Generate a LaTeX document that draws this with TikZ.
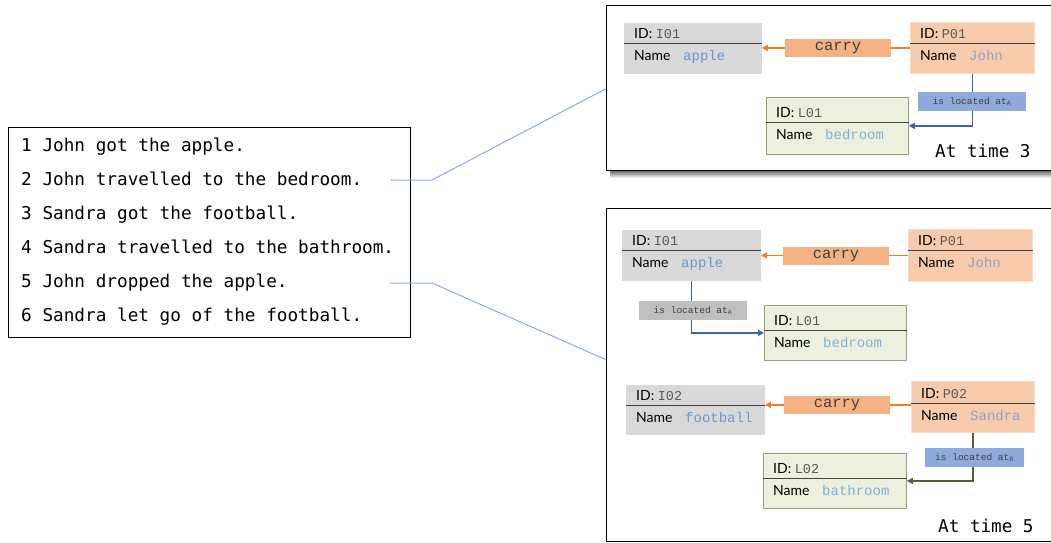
\documentclass[tikz,border=0pt]{standalone}
\usepackage{fontspec}
\setmainfont{Lato}
\setmonofont{Liberation Mono}
\newfontfamily\storyfont{DejaVu Sans Mono}
\usetikzlibrary{arrows.meta,calc}

\definecolor{itemgray}{HTML}{D9D9D9}
\definecolor{personfill}{HTML}{F8CBAD}
\definecolor{personedge}{HTML}{FBDCC8}
\definecolor{placefill}{HTML}{EBF1DE}
\definecolor{placeedge}{HTML}{9E9E7C}
\definecolor{divgray}{HTML}{404040}
\definecolor{carryfill}{HTML}{F4B183}
\definecolor{carryline}{HTML}{ED7D31}
\definecolor{locfill}{HTML}{8FAADC}
\definecolor{locgray}{HTML}{BFBFBF}
\definecolor{locline}{HTML}{3E64AD}
\definecolor{locdark}{HTML}{5A5A48}
\definecolor{linkblue}{HTML}{8FAADC}
\definecolor{idgray}{HTML}{595959}
\definecolor{valblue}{HTML}{6A98CF}
\definecolor{valgrayblue}{HTML}{8AA2C6}
\definecolor{valsky}{HTML}{7DB0D8}
\definecolor{lbltext}{HTML}{404040}

\tikzset{
  entitybox/.style={rectangle, inner sep=0pt, line width=0.8pt},
  itembox/.style={fill=itemgray, draw=itemgray},
  personbox/.style={fill=personfill, draw=personedge},
  placebox/.style={fill=placefill, draw=placeedge},
  divider/.style={draw=divgray, line width=0.9pt},
  sanslbl/.style={inner sep=0pt, anchor=base west, text=black, font=\fontsize{14}{16}\selectfont},
  vallbl/.style={inner sep=0pt, anchor=base west, font=\fontsize{14}{16}\selectfont\ttfamily},
  carrylbl/.style={rectangle, fill=carryfill, inner sep=0pt, minimum width=106pt, minimum height=18pt, text=lbltext, font=\fontsize{15.5}{17}\selectfont\ttfamily},
  loclbl/.style={rectangle, inner sep=0pt, minimum height=19pt, text=lbltext, font=\fontsize{9.5}{11}\selectfont\ttfamily},
  carryarrow/.style={draw=carryline, line width=1.3pt, -{Triangle[length=6pt,width=6pt]}},
  locarrow/.style={draw=locline, line width=1.3pt, -{Triangle[length=6pt,width=6pt]}},
  locdarkarrow/.style={draw=locdark, line width=1.3pt, -{Triangle[length=6pt,width=6pt]}},
  panel/.style={rectangle, draw=black, line width=1.4pt, fill=white, inner sep=0pt, anchor=north west},
  storyline/.style={inner sep=0pt, anchor=base west, font=\storyfont\fontsize{17.7}{20}\selectfont},
  timelbl/.style={inner sep=0pt, anchor=base west, font=\storyfont\fontsize{17.6}{20}\selectfont},
  link/.style={draw=linkblue, line width=1pt},
}

% #1 name, #2 (x,y), #3 width, #4 height, #5 divider offset, #6 box style, #7 id, #8 value, #9 value colour
\newcommand\erbox[9]{%
  \node[entitybox,#6,minimum width=#3pt,minimum height=#4pt,anchor=north west] (#1) at #2 {};
  \draw[divider] ([yshift=-#5pt]#1.north west) -- ([yshift=-#5pt]#1.north east);
  \node[sanslbl] (#1-id) at ([xshift=10pt,yshift=-#5pt+5pt]#1.north west) {ID: {\ttfamily\fontsize{13.5}{16}\selectfont\color{idgray}#7}};
  \node[sanslbl] (#1-nm) at ([xshift=10pt,yshift=-#5pt-17.5pt]#1.north west) {Name};
  \node[vallbl,text=#9] (#1-val) at ([xshift=59pt,yshift=-#5pt-17.5pt]#1.north west) {#8};
}

\begin{document}
\begin{tikzpicture}[x=1pt,y=-1pt]
\useasboundingbox (0,0) rectangle (1051,542);
\fill[white] (0,0) rectangle (1051,542);

% story box
\node[rectangle, draw=black, line width=1.2pt, inner sep=0pt, minimum width=402pt, minimum height=210pt, anchor=north west] (story) at (8,127) {};
\node[storyline] (l1) at (21,151) {1 John got the apple.};
\node[storyline] (l2) at (21,185) {2 John travelled to the bedroom.};
\node[storyline] (l3) at (21,219) {3 Sandra got the football.};
\node[storyline] (l4) at (21,253) {4 Sandra travelled to the bathroom.};
\node[storyline] (l5) at (21,287) {5 John dropped the apple.};
\node[storyline] (l6) at (21,321) {6 Sandra let go of the football.};

% panels
\shade[top color=black!65, bottom color=white] (610,170) rectangle (1051,178);
\node[panel, minimum width=470pt, minimum height=165pt] (panelA) at (606,5) {};
\node[panel, minimum width=470pt, minimum height=333pt] (panelB) at (606,208) {};

% links from story to panels
\coordinate (s2) at (390,180);
\coordinate (k2) at (432,180);
\coordinate (s5) at (390,283);
\coordinate (k5) at (432,283);
\draw[link] (s2) -- (k2) -- ([yshift=-0.5pt]panelA.west);
\draw[link] (s5) -- (k5) -- ([yshift=15.5pt]panelB.west);

% ---- time 3
\erbox{I01a}{(624,23)}{137}{50}{20}{itembox}{I01}{apple}{valblue}
\erbox{P01a}{(910,22)}{124}{51}{21}{personbox}{P01}{John}{valgrayblue}
\erbox{L01a}{(766,97)}{142}{57}{25}{placebox}{L01}{bedroom}{valsky}
\draw[carryarrow] (P01a.west) -- (P01a.west -| I01a.east);
\node[carrylbl] (carryA) at (838,48) {carry};
\draw[locarrow] (P01a.south) |- (L01a.east);
\node[loclbl, fill=locfill, minimum width=108pt] (locA) at (972,101.5) {is located at\textsubscript{A}};
\node[timelbl] (timeA) at (935,157) {At time 3};

% ---- time 5
\erbox{I01b}{(622,230)}{138}{50}{20}{itembox}{I01}{apple}{valblue}
\erbox{P01b}{(908,229)}{124}{52}{21}{personbox}{P01}{John}{valgrayblue}
\erbox{L01b}{(764,305)}{142}{55}{25}{placebox}{L01}{bedroom}{valsky}
\draw[carryarrow] (P01b.west) -- (P01b.west -| I01b.east);
\node[carrylbl] (carryB) at (836,255.5) {carry};
\draw[locarrow] (I01b.south) |- (L01b.west);
\node[loclbl, fill=locgray, minimum width=108pt] (locB) at (693,310.5) {is located at\textsubscript{A}};

\erbox{I02}{(626,385)}{138}{49}{20}{itembox}{I02}{football}{valblue}
\erbox{P02}{(911,381)}{123}{51}{22}{personbox}{P02}{Sandra}{valgrayblue}
\erbox{L02}{(763,453)}{143}{55}{25}{placebox}{L02}{bathroom}{valsky}
\draw[carryarrow] ([yshift=2pt]P02.west) -- ([yshift=2pt]P02.west -| I02.east);
\node[carrylbl] (carryC) at (837,404.5) {carry};
\draw[locdarkarrow] (P02.south) |- (L02.east);
\node[loclbl, fill=locfill, minimum width=99pt] (locC) at (974.5,457.5) {is located at\textsubscript{B}};
\node[timelbl] (timeB) at (938,532) {At time 5};
\end{tikzpicture}
\end{document}
